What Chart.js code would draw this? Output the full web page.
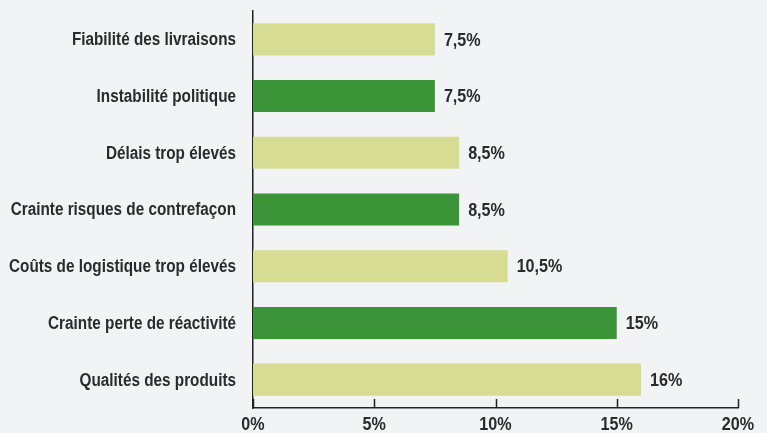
<!DOCTYPE html>
<html>
<head>
<meta charset="utf-8">
<script src="https://cdn.jsdelivr.net/npm/chart.js@4"></script>
<style>
  html,body{margin:0;padding:0;background:#f2f3f5;}
  #wrap{width:767px;height:433px;}
</style>
</head>
<body>
<div id="wrap"><canvas id="c" width="767" height="433"></canvas></div>
<script>
// ======= Données =======
const categories = [
  'Fiabilité des livraisons',
  'Instabilité politique',
  'Délais trop élevés',
  'Crainte risques de contrefaçon',
  'Coûts de logistique trop élevés',
  'Crainte perte de réactivité',
  'Qualités des produits'
];
const values = [7.5, 7.5, 8.5, 8.5, 10.5, 15, 16];
const tickValues = [0, 5, 10, 15, 20];

const LIGHT = '#d6dc91', DARK = '#3b9438';
const barColors = categories.map((_, i) => i % 2 ? DARK : LIGHT);
const FONT = '"Liberation Sans", Arial, sans-serif';
const TXT = '#2b2b2b';
const NARROW = 0.85; // police étroite simulée

const fmtPct = v => String(v).replace('.', ',') + '%';

// texte condensé horizontalement
function narrowText(ctx, txt, x, y, align){
  ctx.save();
  ctx.translate(x, y);
  ctx.scale(NARROW, 1);
  ctx.textAlign = align;
  ctx.fillText(txt, 0, 0);
  ctx.restore();
}

// ======= Axes : traits vers l'intérieur + libellés =======
const axisDecor = {
  id: 'axisDecor',
  afterDraw(chart){
    const {ctx, scales:{x, y}} = chart;
    ctx.save();
    ctx.strokeStyle = '#222';
    ctx.lineWidth = 1.5;
    x.ticks.forEach((t, i) => {
      const px = Math.round(x.getPixelForTick(i)) + 0.5;
      ctx.beginPath();
      ctx.moveTo(px, x.top);
      ctx.lineTo(px, x.top - 9);
      ctx.stroke();
    });
    ctx.fillStyle = TXT;
    ctx.textBaseline = 'middle';
    ctx.font = 'bold 19px ' + FONT;
    x.ticks.forEach((t, i) => {
      narrowText(ctx, t.value + '%', x.getPixelForTick(i), x.top + 17, 'center');
    });
    ctx.font = 'bold 18px ' + FONT;
    y.ticks.forEach((t, i) => {
      narrowText(ctx, categories[i], y.right - 17, y.getPixelForTick(i) + 1, 'right');
    });
    ctx.restore();
  }
};

// ======= Étiquettes de valeur =======
const valueLabels = {
  id: 'valueLabels',
  afterDatasetsDraw(chart){
    const {ctx} = chart;
    const meta = chart.getDatasetMeta(0);
    ctx.save();
    ctx.font = 'bold 19px ' + FONT;
    ctx.fillStyle = TXT;
    ctx.textBaseline = 'middle';
    meta.data.forEach((bar, i) => {
      narrowText(ctx, fmtPct(values[i]), bar.x + 9, bar.y + 1, 'left');
    });
    ctx.restore();
  }
};

new Chart(document.getElementById('c'), {
  type: 'bar',
  data: {
    labels: categories,
    datasets: [{
      data: values,
      backgroundColor: barColors,
      borderWidth: 0,
      categoryPercentage: 1,
      barPercentage: 0.565
    }]
  },
  options: {
    indexAxis: 'y',
    responsive: false,
    animation: false,
    layout: {padding: {top: 11, right: 29, left: 0, bottom: 0}},
    plugins: {legend: {display: false}, tooltip: {enabled: false}},
    scales: {
      x: {
        min: 0, max: 20,
        afterBuildTicks(scale){ scale.ticks = tickValues.map(v => ({value: v})); },
        afterFit(scale){ scale.height = 25; scale.paddingLeft = 0; scale.paddingRight = 0; },
        grid: {display: false, drawTicks: false},
        border: {display: true, color: '#222', width: 1.5},
        ticks: {display: false}
      },
      y: {
        afterFit(scale){ scale.width = 253; scale.paddingTop = 0; scale.paddingBottom = 0; },
        grid: {display: false, drawTicks: false},
        border: {display: true, color: '#222', width: 1.5},
        ticks: {display: false}
      }
    }
  },
  plugins: [axisDecor, valueLabels]
});
</script>
</body>
</html>
